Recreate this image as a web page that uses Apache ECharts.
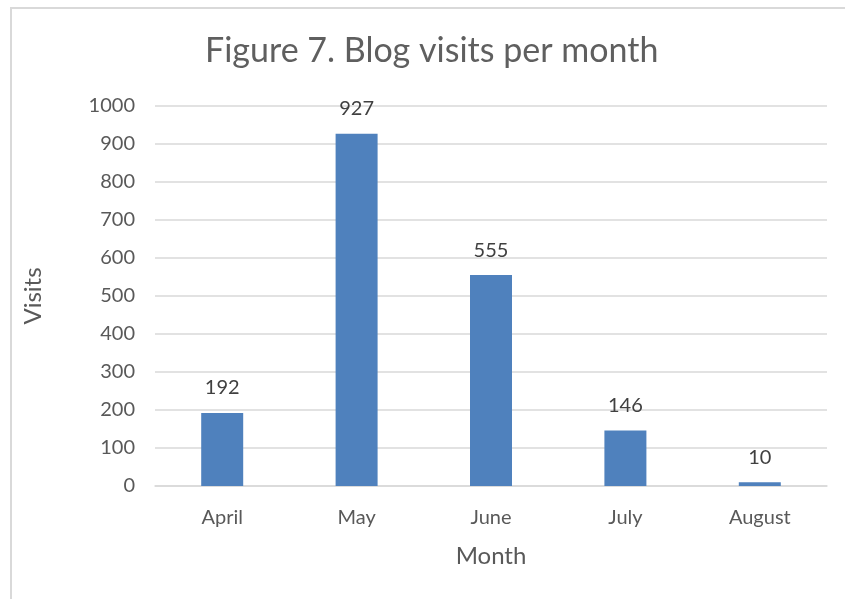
<!DOCTYPE html>
<html>
<head>
<meta charset="utf-8">
<script src="https://cdn.jsdelivr.net/npm/echarts@6/dist/echarts.min.js"></script>
<style>
  html, body { margin: 0; padding: 0; background: #fff; overflow: hidden; }
  #frame {
    position: absolute; left: 10px; top: 7px; width: 900px; height: 700px;
    border: 2px solid #d9d9d9; box-sizing: border-box;
  }
  #chart { position: absolute; left: 0; top: 0; width: 845px; height: 599px; }
</style>
</head>
<body>
<div id="frame"></div>
<div id="chart"></div>
<script>
const months = ['April', 'May', 'June', 'July', 'August'];
const visits = [192, 927, 555, 146, 10];
const yTicks = [0, 1000, 100]; // min, max, step

const font = 'Lato, "Open Sans", "Noto Sans", sans-serif';
const chart = echarts.init(document.getElementById('chart'));
chart.setOption({
  animation: false,
  textStyle: { fontFamily: font },
  title: {
    text: 'Figure 7. Blog visits per month',
    left: 200,
    top: 29,
    textStyle: { fontSize: 34, fontWeight: 'normal', color: '#5f5f5f', fontFamily: font }
  },
  grid: { left: 155, right: 18, top: 106, bottom: 113 },
  xAxis: {
    type: 'category',
    data: months,
    name: 'Month',
    nameLocation: 'middle',
    nameGap: 58,
    nameTextStyle: { fontSize: 24, color: '#595959' },
    axisLine: { lineStyle: { color: '#d9d9d9', width: 1.5 } },
    axisTick: { show: false },
    axisLabel: { fontSize: 20, color: '#595959', margin: 22 }
  },
  yAxis: {
    type: 'value',
    min: yTicks[0],
    max: yTicks[1],
    interval: yTicks[2],
    name: 'Visits',
    nameLocation: 'middle',
    nameGap: 110,
    nameTextStyle: { fontSize: 24, color: '#595959' },
    axisLine: { show: false },
    axisTick: { show: false },
    axisLabel: { fontSize: 20, color: '#595959', margin: 20, formatter: v => String(v) },
    splitLine: { lineStyle: { color: '#d9d9d9', width: 1.5 } }
  },
  series: [{
    type: 'bar',
    data: visits,
    barWidth: 42,
    itemStyle: { color: '#4f81bd' },
    label: {
      show: true,
      position: 'top',
      distance: 15,
      fontSize: 20,
      color: '#404040'
    }
  }]
});
</script>
</body>
</html>
